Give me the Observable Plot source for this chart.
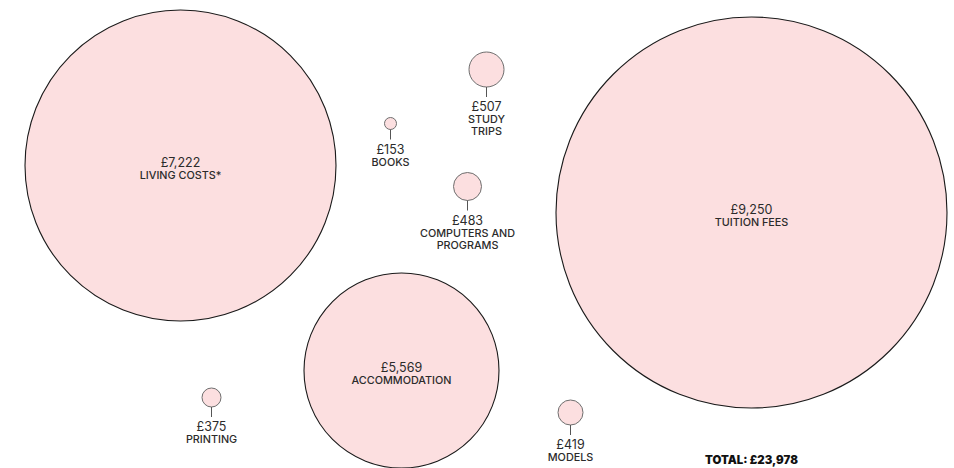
<!DOCTYPE html>
<html>
<head>
<meta charset="utf-8">
<script src="https://cdn.jsdelivr.net/npm/d3@7"></script>
<script src="https://cdn.jsdelivr.net/npm/@observablehq/plot@0.6"></script>
<style>
  html, body { margin: 0; padding: 0; background: #fff; }
  #chart svg { display: block; font-family: Inter, Roboto, "Noto Sans", sans-serif; }
</style>
</head>
<body>
<div id="chart"></div>
<script>
// ---- data ----
const categories = ["TUITION FEES", "LIVING COSTS*", "ACCOMMODATION", "STUDY\nTRIPS", "COMPUTERS AND\nPROGRAMS", "MODELS", "PRINTING", "BOOKS"];
const values = [9250, 7222, 5569, 507, 483, 419, 375, 153];
// bubble layout (chart units, same as the 954×468 frame)
const layoutX = [751, 180, 401, 486, 467, 570, 211, 390];
const layoutY = [212, 165, 370, 69, 186, 412, 397, 123];

// ---- scales ----
const rDomain = d3.sort(values);
const rRange = [6, 9.5, 12.5, 14, 17.5, 97.5, 155.5, 195.5];
const rScale = Plot.scale({r: {type: "linear", domain: rDomain, range: rRange}});

const fmt = v => "£" + d3.format(",")(v);
const items = categories.map((c, i) => {
  const r = rScale.apply(values[i]);
  return {category: c, value: values[i], x: layoutX[i], y: layoutY[i], r, big: r > 50};
});
const big = items.filter(d => d.big);
const small = items.filter(d => !d.big).map(d => ({...d, vy: d.y + d.r + 20}));
const smallLines = small.flatMap(d => d.category.split("\n").map((t, j) => ({x: d.x, y: d.vy + 13 + j * 12, t})));
const total = d3.sum(values);

const fill = "#fcdfe0";
const ink = "#2b2b2b";

const chart = Plot.plot({
  width: 954,
  height: 468,
  margin: 0,
  x: {domain: [0, 954], range: [0, 954], axis: null},
  y: {domain: [0, 468], range: [0, 468], axis: null},
  r: {type: "linear", domain: rDomain, range: rRange},
  marks: [
    Plot.dot(big, {x: "x", y: "y", r: "value", fill, stroke: "#1a1a1a", strokeWidth: 1.1}),
    Plot.dot(small, {x: "x", y: "y", r: "value", fill, stroke: "#6e6e6e", strokeWidth: 1}),
    Plot.link(small, {x1: "x", x2: "x", y1: d => d.y + d.r, y2: d => d.vy - 10, stroke: "#555", strokeWidth: 1}),
    Plot.text(big, {x: "x", y: d => d.y - 3, text: d => fmt(d.value), fontSize: 12.5, fill: ink, fontWeight: 400}),
    Plot.text(big, {x: "x", y: d => d.y + 10, text: "category", fontSize: 10.8, fill: ink, fontWeight: 500}),
    Plot.text(small, {x: "x", y: "vy", text: d => fmt(d.value), fontSize: 12.5, fill: ink, fontWeight: 400}),
    Plot.text(smallLines, {x: "x", y: "y", text: "t", fontSize: 10.8, fill: ink, fontWeight: 500}),
    Plot.text([total], {x: () => 751, y: () => 460, text: d => "TOTAL: " + fmt(d), fontSize: 11.4, fontWeight: 900, fill: "#111"})
  ]
});
document.getElementById("chart").append(chart);
</script>
</body>
</html>
